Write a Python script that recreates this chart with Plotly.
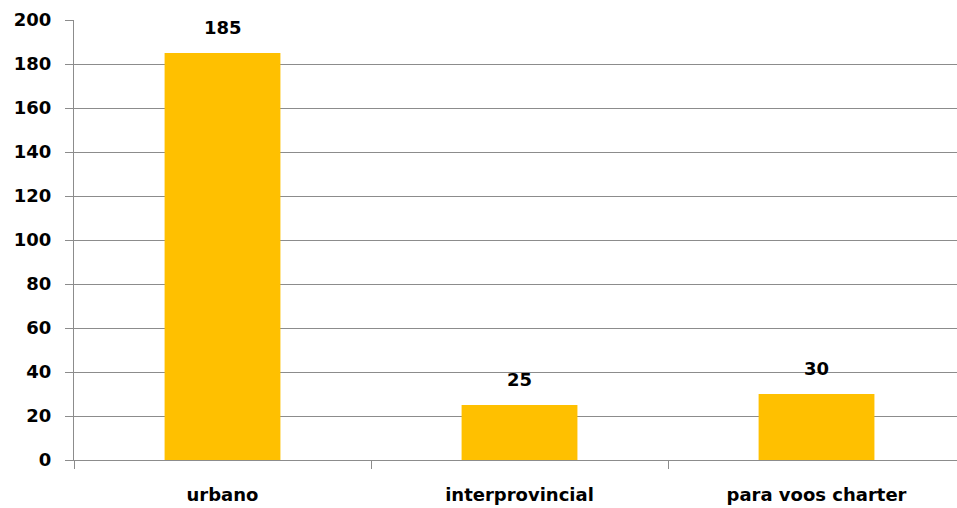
import plotly.graph_objects as go

categories = ["urbano", "interprovincial", "para voos charter"]
values = [185, 25, 30]
y_ticks = [0, 20, 40, 60, 80, 100, 120, 140, 160, 180, 200]

grid = "#8c8c8c"
font = "DejaVu Sans"

fig = go.Figure()
fig.add_trace(go.Bar(
    x=categories, y=values, width=0.39,
    marker=dict(color="#FFC000", line=dict(width=0)),
    hoverinfo="skip",
))
for c, v in zip(categories, values):
    fig.add_annotation(x=c, y=v, text="<b>%d</b>" % v, showarrow=False,
                       yshift=26, yanchor="middle",
                       font=dict(family=font, size=18, color="black"))

fig.update_layout(
    width=957, height=508,
    margin=dict(l=74, r=0, t=20, b=48),
    paper_bgcolor="white", plot_bgcolor="white",
    showlegend=False,
    font=dict(family=font, size=18, color="black"),
    xaxis=dict(
        type="category", range=[-0.5, 2.473],
        tickson="boundaries", ticks="outside", ticklen=8, tickcolor=grid, tickwidth=1,
        showline=True, linecolor=grid, linewidth=1,
        showgrid=False, zeroline=False,
        tickfont=dict(family=font, size=18, color="black", weight="bold"),
        ticklabelstandoff=18,
    ),
    yaxis=dict(
        range=[0, 200], tickvals=y_ticks,
        ticks="outside", ticklen=8, tickcolor=grid, tickwidth=1,
        showline=True, linecolor=grid, linewidth=1,
        showgrid=True, gridcolor=grid, gridwidth=1, zeroline=False,
        tickfont=dict(family=font, size=18, color="black", weight="bold"),
        ticklabelstandoff=10,
    ),
)

fig.write_html(
    "out.html",
    config={"displayModeBar": False},
    post_script="document.body.style.margin='0';document.body.style.overflow='hidden';",
)
